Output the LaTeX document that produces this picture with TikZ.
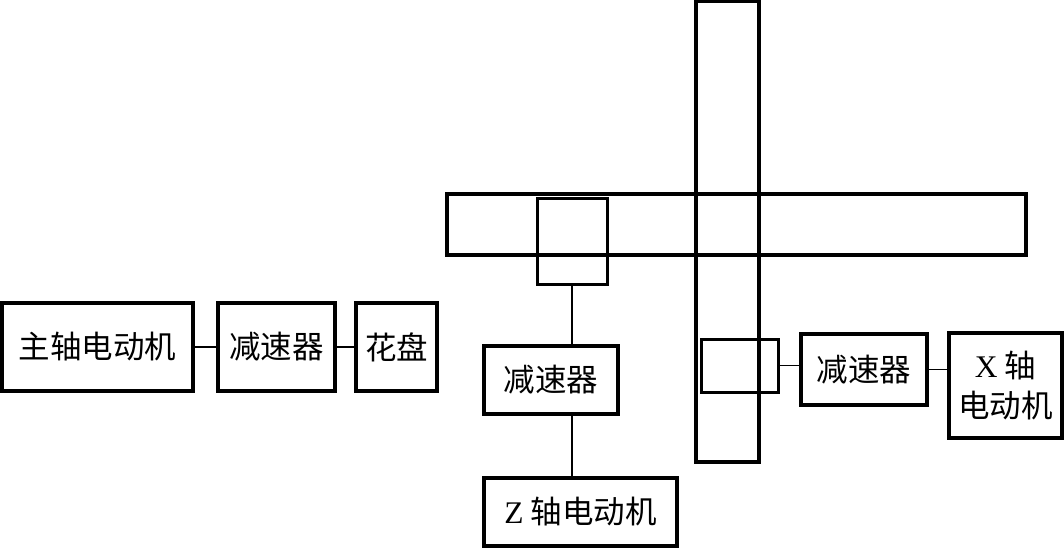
\documentclass[tikz,border=0pt]{standalone}
\usepackage{fontspec}
\setmainfont{Liberation Serif}
\newfontfamily\cjk{Noto Sans CJK SC}
\usepackage{tikz}
\usetikzlibrary{positioning}
\tikzset{
  unitbox/.style={draw,line width=3.2pt,inner sep=0pt,align=center,font=\cjk\fontsize{31.5}{40}\selectfont},
  guidebar/.style={draw,line width=3.2pt,inner sep=0pt},
  slidebox/.style={draw,line width=3pt,inner sep=0pt},
  link/.style={line width=1.6pt}
}

\begin{document}
\begin{tikzpicture}[x=1pt,y=-1pt]
  \useasboundingbox (0,0) rectangle (1064,548);

  % spindle drive
  \node[unitbox,minimum width=191,minimum height=88] (spmotor) at (97.5,347) {主轴电动机};
  \node[unitbox,minimum width=117,minimum height=88] (redA) at (276.5,347) {减速器};
  \node[unitbox,minimum width=81,minimum height=88] (chuck) at (396.5,347) {花盘};
  \draw[link] (spmotor) -- (redA);
  \draw[link] (redA) -- (chuck);

  % cross slides
  \node[guidebar,minimum width=579,minimum height=61] (xbar) at (736.5,224.5) {};
  \node[guidebar,minimum width=63,minimum height=461] (ybar) at (727.5,231.5) {};
  \node[slidebox,minimum width=70,minimum height=86] (zslide) at (572,241) {};
  \node[slidebox,minimum width=77,minimum height=53] (xslide) at (739.5,365.5) {};

  % Z drive
  \node[unitbox,minimum width=134,minimum height=68] (redZ) at (551,380) {减速器};
  \node[unitbox,minimum width=193,minimum height=68] (zmotor) at (580.5,512) {\textrm{Z} 轴电动机};
  \draw[link] (zslide.south) -- (zslide.south |- redZ.north);
  \draw[link] (zslide.south |- redZ.south) -- (zslide.south |- zmotor.north);

  % X drive
  \node[unitbox,minimum width=126,minimum height=71] (redX) at (864,369.5) {减速器};
  \node[unitbox,minimum width=113,minimum height=105] (xmotor) at (1005.5,385.5) {\textrm{X} 轴\\电动机};
  \draw[link] (xslide.east) -- (xslide.east -| redX.west);
  \draw[link] (redX.east) -- (redX.east -| xmotor.west);
\end{tikzpicture}
\end{document}
